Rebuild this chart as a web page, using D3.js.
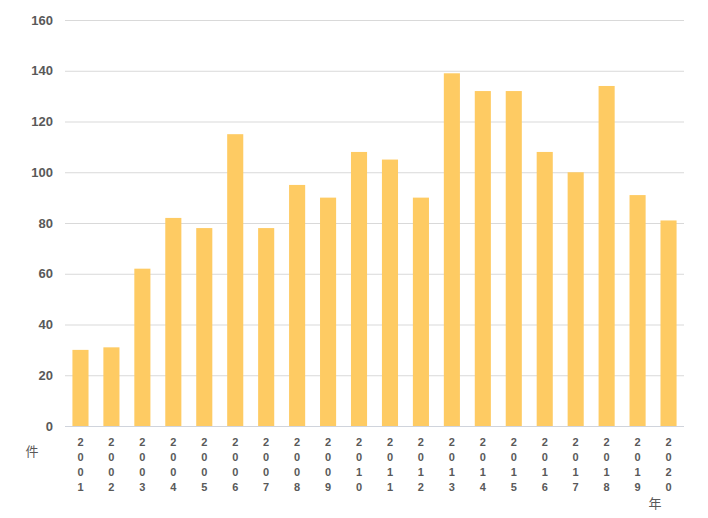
<!DOCTYPE html>
<html><head><meta charset="utf-8">
<script src="https://cdn.jsdelivr.net/npm/d3@7"></script>
<style>body{margin:0;background:#fff}</style>
</head><body>
<svg id="c" width="708" height="518"></svg>
<script>
const years = ["2001","2002","2003","2004","2005","2006","2007","2008","2009","2010","2011","2012","2013","2014","2015","2016","2017","2018","2019","2020"];
const counts = [30,31,62,82,78,115,78,95,90,108,105,90,139,132,132,108,100,134,91,81];
const yTicks = [0,20,40,60,80,100,120,140,160];
const yUnit = "件";
const xUnit = "年";

const svg = d3.select("#c");
const m = {l:65, r:684, t:20, b:426};
const x = d3.scaleBand().domain(years).range([m.l, m.r]).paddingInner(0.48).paddingOuter(0.24);
const y = d3.scaleLinear().domain([0,160]).range([m.b, m.t]);

svg.append("g").selectAll("line").data(yTicks.filter(d=>d>0)).join("line")
  .attr("x1", m.l).attr("x2", m.r).attr("y1", d=>y(d)+0.5).attr("y2", d=>y(d)+0.5)
  .attr("stroke", "#d9d9d9").attr("stroke-width", 1);

svg.append("g").selectAll("rect").data(years).join("rect")
  .attr("x", d=>x(d)).attr("width", x.bandwidth())
  .attr("y", (d,i)=>y(counts[i])).attr("height", (d,i)=>y(0)-y(counts[i]))
  .attr("fill", "#fecb63");

svg.append("line").attr("x1", m.l).attr("x2", m.r).attr("y1", y(0)+0.5).attr("y2", y(0)+0.5)
  .attr("stroke", "#d0d4dc").attr("stroke-width", 1);

svg.append("g").selectAll("text").data(yTicks).join("text")
  .attr("x", 53).attr("y", d=>y(d)).attr("dy", "0.35em").attr("text-anchor", "end")
  .attr("font-family", "Liberation Sans, Arial, sans-serif").attr("font-weight", "bold")
  .attr("font-size", 13).attr("fill", "#595959").text(d=>d);

const xl = svg.append("g").selectAll("text").data(years).join("text")
  .attr("text-anchor", "middle")
  .attr("font-family", "Liberation Sans, Arial, sans-serif").attr("font-weight", "bold")
  .attr("font-size", 11).attr("fill", "#595959");
xl.each(function(d){
  const t = d3.select(this);
  d.split("").forEach((ch,k)=>{
    t.append("tspan").attr("x", x(d)+x.bandwidth()/2).attr("y", 446 + k*15).text(ch);
  });
});

svg.append("text").attr("x", 32).attr("y", 456).attr("text-anchor", "middle")
  .attr("font-family", "Noto Sans CJK JP").attr("font-size", 13).attr("fill", "#595959").text(yUnit);
svg.append("text").attr("x", 655).attr("y", 508).attr("text-anchor", "middle")
  .attr("font-family", "Noto Sans CJK JP").attr("font-size", 13).attr("fill", "#595959").text(xUnit);
</script>
</body></html>
